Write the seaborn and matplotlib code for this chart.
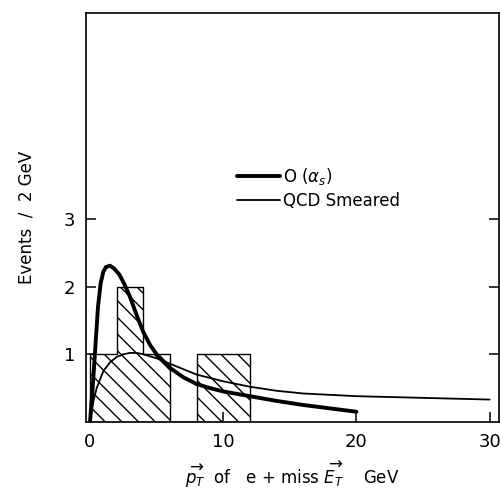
import numpy as np
import seaborn as sns
import matplotlib
matplotlib.use("Agg")
import matplotlib.pyplot as plt

# histogram: 2 GeV bins
bin_edges = [0, 2, 4, 6, 8, 10, 12]
bin_centers = [1, 3, 5, 9, 11]
bin_counts = [1, 2, 1, 1, 1]

# O(alpha_s) curve (thick)
oas_x = [0, 0.2, 0.4, 0.6, 0.8, 1.0, 1.2, 1.5, 1.8, 2.2, 2.6, 3.0, 3.5, 4.0,
         4.5, 5.0, 6.0, 7.0, 8.0, 9.0, 10, 12, 14, 16, 18, 20]
oas_y = [0, 0.5, 1.1, 1.7, 2.05, 2.22, 2.29, 2.31, 2.27, 2.18, 2.03, 1.85, 1.58,
         1.33, 1.14, 1.0, 0.80, 0.66, 0.56, 0.50, 0.45, 0.38, 0.31, 0.25, 0.20, 0.15]

# QCD smeared curve (thin)
qcd_x = [0, 0.25, 0.5, 1.0, 1.5, 2.0, 2.5, 3.0, 3.5, 4.0, 5.0, 6.0, 7.0, 8.0,
         10, 12, 14, 16, 18, 20, 22, 24, 26, 28, 30]
qcd_y = [0, 0.3, 0.5, 0.75, 0.88, 0.96, 1.0, 1.02, 1.02, 1.0, 0.94, 0.86, 0.78,
         0.70, 0.60, 0.52, 0.46, 0.42, 0.40, 0.38, 0.37, 0.36, 0.35, 0.34, 0.33]

sns.set_style("ticks")
plt.rcParams["font.family"] = ["DejaVu Sans"]
plt.rcParams["hatch.linewidth"] = 1.0
plt.rcParams["hatch.color"] = "black"
plt.rcParams["text.color"] = "black"
plt.rcParams["axes.labelcolor"] = "black"

fig = plt.figure(figsize=(5.0, 4.94), dpi=100)
ax = fig.add_axes([0.172, 0.146, 0.826, 0.828])

sns.histplot(x=bin_centers, weights=bin_counts, bins=bin_edges, ax=ax,
             element="step", fill=True, color="black", linewidth=1.0)
for c in ax.collections:
    c.set_facecolor("none")
    c.set_edgecolor("black")
    c.set_hatch("\\\\")

sns.lineplot(x=oas_x, y=oas_y, ax=ax, color="black", linewidth=2.8,
             label=r"O $(\alpha_s)$")
sns.lineplot(x=qcd_x, y=qcd_y, ax=ax, color="black", linewidth=1.3,
             label="QCD Smeared")

ax.set_xlim(-0.3, 30.7)
ax.set_ylim(0, 6.05)
ax.set_xticks([0, 10, 20, 30])
ax.set_yticks([1, 2, 3])
ax.tick_params(direction="in", length=7, width=1.1, right=True, labelsize=13,
               colors="black", pad=8)
for s in ax.spines.values():
    s.set_linewidth(1.2)
    s.set_color("black")

ax.set_xlabel(r"$\overrightarrow{p_T}$  of   e + miss $\overrightarrow{E_T}$    GeV",
              fontsize=12, labelpad=6)
ax.set_ylabel("Events  /  2 GeV", fontsize=12, labelpad=20)

ax.legend(loc="upper left", bbox_to_anchor=(0.365, 0.625), frameon=False,
          fontsize=12, handlelength=2.6, handletextpad=0.2, labelspacing=0.3,
          borderpad=0, borderaxespad=0)

fig.savefig("out.png", dpi=100)
